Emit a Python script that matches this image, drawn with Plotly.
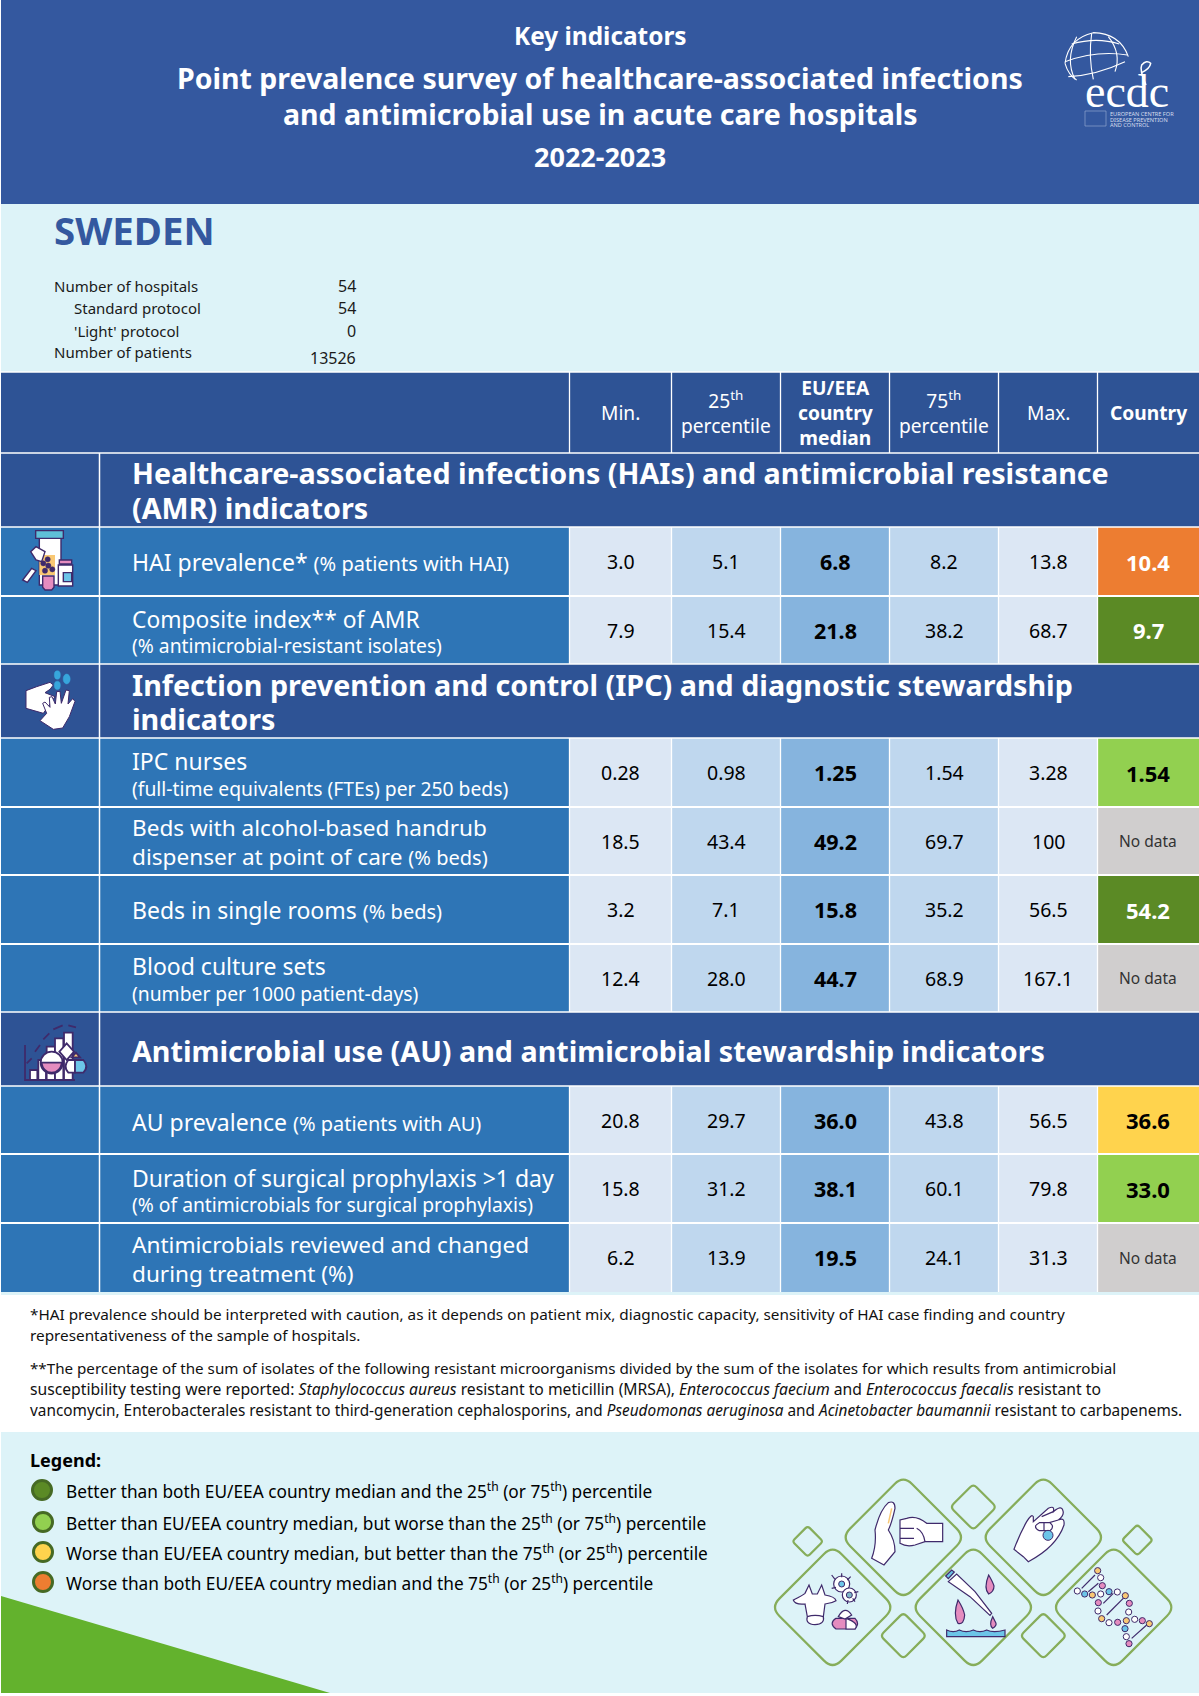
import re
import plotly.graph_objects as go

# ---------- DATA ----------
columns = ["Min.", "25<sup>th</sup><br>percentile", "<b>EU/EEA<br>country<br>median</b>",
           "75<sup>th</sup><br>percentile", "Max.", "<b>Country</b>"]
min_vals = ["3.0", "7.9", "0.28", "18.5", "3.2", "12.4", "20.8", "15.8", "6.2"]
p25_vals = ["5.1", "15.4", "0.98", "43.4", "7.1", "28.0", "29.7", "31.2", "13.9"]
median_vals = ["6.8", "21.8", "1.25", "49.2", "15.8", "44.7", "36.0", "38.1", "19.5"]
p75_vals = ["8.2", "38.2", "1.54", "69.7", "35.2", "68.9", "43.8", "60.1", "24.1"]
max_vals = ["13.8", "68.7", "3.28", "100", "56.5", "167.1", "56.5", "79.8", "31.3"]
country_vals = ["10.4", "9.7", "1.54", None, "54.2", None, "36.6", "33.0", None]
country_status = ["worst", "best", "better", None, "best", None, "worse", "better", None]
row_titles = [
    ["HAI prevalence* <t>(% patients with HAI)</t>"],
    ["Composite index** of AMR", "<s>(% antimicrobial-resistant isolates)</s>"],
    ["IPC nurses", "<s>(full-time equivalents (FTEs) per 250 beds)</s>"],
    ["Beds with alcohol-based handrub", "dispenser at point of care <t>(% beds)</t>"],
    ["Beds in single rooms <t>(% beds)</t>"],
    ["Blood culture sets", "<s>(number per 1000 patient-days)</s>"],
    ["AU prevalence <t>(% patients with AU)</t>"],
    ["Duration of surgical prophylaxis &gt;1 day", "<s>(% of antimicrobials for surgical prophylaxis)</s>"],
    ["Antimicrobials reviewed and changed", "during treatment (%)"],
]
section_titles = [
    ["Healthcare-associated infections (HAIs) and antimicrobial resistance", "(AMR) indicators"],
    ["Infection prevention and control (IPC) and diagnostic stewardship", "indicators"],
    ["Antimicrobial use (AU) and antimicrobial stewardship indicators"],
]
info_labels = ["Number of hospitals", "Standard protocol", "'Light' protocol", "Number of patients"]
info_values = ["54", "54", "0", "13526"]
legend_items = [
    "Better than both EU/EEA country median and the 25<sup>th</sup> (or 75<sup>th</sup>) percentile",
    "Better than EU/EEA country median, but worse than the 25<sup>th</sup> (or 75<sup>th</sup>) percentile",
    "Worse than EU/EEA country median, but better than the 75<sup>th</sup> (or 25<sup>th</sup>) percentile",
    "Worse than both EU/EEA country median and the 75<sup>th</sup> (or 25<sup>th</sup>) percentile",
]
notes = [
    "*HAI prevalence should be interpreted with caution, as it depends on patient mix, diagnostic capacity, sensitivity of HAI case finding and country",
    "representativeness of the sample of hospitals.",
    "**The percentage of the sum of isolates of the following resistant microorganisms divided by the sum of the isolates for which results from antimicrobial",
    "susceptibility testing were reported: <i>Staphylococcus aureus</i> resistant to meticillin (MRSA), <i>Enterococcus faecium</i> and <i>Enterococcus faecalis</i> resistant to",
    "vancomycin, Enterobacterales resistant to third-generation cephalosporins, and <i>Pseudomonas aeruginosa</i> and <i>Acinetobacter baumannii</i> resistant to carbapenems.",
]

# ---------- STYLE / LAYOUT ----------
F = "Noto Sans"
BANNER, DARK, MID, PALE = "#34589F", "#2E5395", "#2E75B6", "#DDF3F8"
WHITE, INK, PURPLE = "#FFFFFF", "#000000", "#3F2A6B"
PINK, BLUE, ORANGE = "#E58CBF", "#6CC5E8", "#F9C874"
CELL = {0: "#DCE7F4", 1: "#BFD7EE", 2: "#86B4DE", 3: "#BFD7EE", 4: "#DCE7F4"}
STATUS = {"best": "#5B8A25", "better": "#92D050", "worse": "#FFD34D", "worst": "#ED7D31", None: "#D0CECE"}
LEG_KEYS = ["best", "better", "worse", "worst"]
XC = [99.5, 569.5, 671.5, 780.5, 889.5, 998.5, 1097.5, 1199]
Y_HEAD = (372, 453)
SECTION_Y = [(453, 527), (664, 738), (1012, 1086)]
ROW_Y = [(527, 596), (596, 664), (738, 807), (807, 875), (875, 944), (944, 1012),
         (1086, 1154), (1154, 1223), (1223, 1292)]
SECTION_TEXT_Y = [[472.5, 507.5], [684, 718.5], [1050]]
ROW_TEXT_Y = [[562], [619, 645], [761, 788], [827, 856], [910], [966, 993], [1122], [1178, 1204], [1244, 1273]]
ROW_SIZE = [23, 22.8, 23, 22.6, 23, 23, 23, 23, 22.6]
NOTE_SIZE = [15.3, 15.3, 15.18, 15.7, 15.35]

shapes, ann = [], []


def rect(x0, y0, x1, y1, fill, line=None, lw=0):
    shapes.append(dict(type="rect", x0=x0, y0=y0, x1=x1, y1=y1, fillcolor=fill,
                       line=dict(color=line or fill, width=lw), layer="below"))


def seg(x0, y0, x1, y1, w=1.2, color=WHITE):
    shapes.append(dict(type="line", x0=x0, y0=y0, x1=x1, y1=y1, line=dict(color=color, width=w), layer="below"))


def path(d, ox=0, oy=0, s=1.0, fill="rgba(0,0,0,0)", line=PURPLE, lw=1.2):
    toks = re.findall(r"[MLQCZ]|-?\d+\.?\d*", d)
    out, i = [], 0
    for t in toks:
        if t.isalpha():
            out.append(t)
            i = 0
        else:
            v = float(t)
            out.append(f"{(ox + v * s if i % 2 == 0 else oy + v * s):.2f}")
            i += 1
    shapes.append(dict(type="path", path=" ".join(out), fillcolor=fill, layer="below",
                       line=dict(color=line, width=lw)))


def circ(cx, cy, r, fill, line=PURPLE, lw=1.2, ry=None):
    ry = ry or r
    shapes.append(dict(type="circle", x0=cx - r, x1=cx + r, y0=cy - ry, y1=cy + ry, fillcolor=fill,
                       line=dict(color=line, width=lw), layer="below"))


def txt(x, y, s, size, color=INK, anchor="left", family=F):
    ann.append(dict(x=x, y=y, text=s, showarrow=False, xanchor=anchor, yanchor="middle", align=anchor,
                    borderpad=0, borderwidth=0, font=dict(family=family, size=size, color=color)))


def small(s):
    return (s.replace("<s>", '<span style="font-size:19.3px">').replace("</s>", "</span>")
             .replace("<t>", '<span style="font-size:20px">').replace("</t>", "</span>"))


# ---------- panels ----------
rect(1, 0, 1199, 204, BANNER)
rect(1, 204, 1199, 372, PALE)
rect(1, Y_HEAD[0], 1199, Y_HEAD[1], DARK)
for y0, y1 in SECTION_Y:
    rect(1, y0, 1199, y1, DARK)
rect(1, 1292, 1199, 1295, PALE)
rect(1, 1432, 1199, 1693, PALE)
path("M1 1596 L330 1693 L1 1693 Z", fill="#63B22D", line="#63B22D", lw=0)

# ---------- banner texts ----------
txt(600, 35, "<b>Key indicators</b>", 24.4, WHITE, "center")
txt(600, 78, "<b>Point prevalence survey of healthcare-associated infections</b>", 28.5, WHITE, "center")
txt(600, 114, "<b>and antimicrobial use in acute care hospitals</b>", 28.5, WHITE, "center")
txt(600, 156, "<b>2022-2023</b>", 27, WHITE, "center")
txt(54, 230, "<b>SWEDEN</b>", 38.4, BANNER)

info_x = [54, 74, 74, 54]
info_y = [285.5, 307.5, 330.5, 351.5]
val_y = [286, 308, 331, 358]
for lab, val, x, y, vy in zip(info_labels, info_values, info_x, info_y, val_y):
    txt(x, y, lab, 15, "#1A1A1A")
    txt(356, vy, val, 16, "#1A1A1A", "right")

# ---------- header ----------
for j, head in enumerate(columns):
    cx = (XC[j + 1] + XC[j + 2]) / 2
    txt(cx, sum(Y_HEAD) / 2, head, 19.2, WHITE, "center")

# ---------- rows ----------
for (y0, y1), lines, ys, msize, vals in zip(ROW_Y, row_titles, ROW_TEXT_Y, ROW_SIZE,
                                     zip(min_vals, p25_vals, median_vals, p75_vals, max_vals, country_vals, country_status)):
    rect(1, y0, XC[1], y1, MID)
    for j in range(5):
        rect(XC[j + 1], y0, XC[j + 2], y1, CELL[j])
        if j == 2:
            txt((XC[j + 1] + XC[j + 2]) / 2, (y0 + y1) / 2, f"<b>{vals[j]}</b>", 21.5, INK, "center")
        else:
            txt((XC[j + 1] + XC[j + 2]) / 2, (y0 + y1) / 2, vals[j], 19.5, INK, "center")
    rect(XC[6], y0, XC[7], y1, STATUS[vals[6]])
    cx = (XC[6] + XC[7]) / 2
    if vals[5] is None:
        txt(cx, (y0 + y1) / 2, "No data", 15.5, "#333333", "center")
    else:
        txt(cx, (y0 + y1) / 2, f"<b>{vals[5]}</b>", 22, INK if vals[6] in ("better", "worse") else WHITE, "center")
    for line, y in zip(lines, ys):
        txt(132, y, small(line), msize, WHITE)

for lines, ys in zip(section_titles, SECTION_TEXT_Y):
    for line, y in zip(lines, ys):
        txt(132, y, f"<b>{line}</b>", 28.7, WHITE)

# ---------- grid ----------
for y in [372, 453, 527, 664, 738, 1012, 1086]:
    seg(1, y, 1199, y, 1.3)
for y in [596, 807, 875, 944, 1154, 1223]:
    seg(1, y, 1199, y, 2)
for x in XC[1:7]:
    seg(x, Y_HEAD[0], x, Y_HEAD[1], 1.3)
    for y0, y1 in ROW_Y:
        seg(x, y0, x, y1, 1.3)
seg(XC[0], 453, XC[0], 1292, 1.5)

# ---------- notes ----------
for s, y, size in zip(notes, [1314, 1335, 1368, 1389, 1410], NOTE_SIZE):
    txt(30, y, s, size, "#111111")

# ---------- legend ----------
txt(30, 1460, "<b>Legend:</b>", 18, INK)
for key, s, y, cx in zip(LEG_KEYS, legend_items, [1490, 1522, 1552, 1582], [42, 43, 43, 43]):
    circ(cx, y, 9.5, STATUS[key], "#466A24", 3)
    txt(66, y, s, 17.25, INK)


# ---------- decoration: rounded diamonds ----------
def diamond(cx, cy, r):
    k = 0.14 * r
    a = r - k
    d = (f"M{cx - k} {cy - a} Q{cx} {cy - r} {cx + k} {cy - a} L{cx + a} {cy - k} Q{cx + r} {cy} {cx + a} {cy + k} "
         f"L{cx + k} {cy + a} Q{cx} {cy + r} {cx - k} {cy + a} L{cx - a} {cy + k} Q{cx - r} {cy} {cx - a} {cy - k} Z")
    path(d, 760, 1460, 1 / 3, line="#86AD5A", lw=2.2)


for c in [(218, 442, 186), (430, 232, 186), (640, 442, 186), (850, 232, 186), (1061, 442, 186),
          (143, 244, 46), (1132, 240, 46), (640, 141, 69), (430, 527, 69), (850, 527, 69)]:
    diamond(*c)

LG = dict(ox=760, oy=1460, s=1 / 3)
# raised hand and fist
path("M335 295 Q350 255 345 210 Q360 150 385 128 Q405 120 405 145 Q395 190 385 210 Q405 240 405 275 L372 315 Z", fill=WHITE, **LG)
path("M395 145 L385 190", line=ORANGE, lw=1.5, **LG)
path("M548 190 L500 190 Q470 165 440 175 L420 180 L420 250 Q440 262 465 255 L495 245 L548 245 Z", fill=WHITE, **LG)
path("M420 205 L462 205 M420 235 L462 235 M470 205 Q490 215 495 245", **LG)
# hand with capsule
path("M762 268 Q780 220 800 185 Q815 160 820 170 L820 185 L865 145 Q885 135 880 155 Q905 135 908 150 "
     "Q915 165 895 180 Q915 170 912 195 Q890 260 805 305 L790 290 Z", fill=WHITE, **LG)
path("M845 170 L880 155 M860 190 L895 180", **LG)
path("M838 188 L870 188 Q885 200 870 212 L838 212 Q815 200 838 188 Z", fill=WHITE, **LG)
path("M852 188 L852 212", **LG)
circ(760 + 864 / 3, 1460 + 226 / 3, 5, BLUE, PURPLE, 1)
# cow, microbes, capsule
path("M100 420 Q130 405 135 400 L147 375 L157 402 L172 402 L185 375 L195 405 Q225 410 228 422 Q215 430 195 432 "
     "L190 470 Q195 492 165 494 Q135 492 142 470 L135 432 Q105 435 100 420 Z", fill=WHITE, **LG)
path("M142 470 Q165 462 190 470", **LG)
circ(760 + 245 / 3, 1460 + 372 / 3, 8, WHITE, PURPLE, 1.2)
circ(760 + 245 / 3, 1460 + 372 / 3, 3, BLUE, PURPLE, 1)
circ(760 + 268 / 3, 1460 + 405 / 3, 7, WHITE, PURPLE, 1.2)
circ(760 + 268 / 3, 1460 + 405 / 3, 3, "#7FB7C8", PURPLE, 1)
path("M215 345 L225 358 M245 340 L245 352 M272 350 L262 360 M295 395 L283 398 M285 425 L278 415 M262 432 L264 420 M215 385 L228 382", **LG)
path("M228 475 L285 475 Q300 490 285 507 L228 507 Q205 490 228 475 Z", fill=PINK, **LG)
path("M258 475 L258 507 L285 507 Q300 490 258 475 Z", fill=WHITE, **LG)
path("M235 470 Q255 435 275 465 L255 477 Z", fill=WHITE, **LG)
# pipette and drops
path("M565 365 L590 342 L645 395 L695 460 L690 466 L630 410 Z", fill=WHITE, **LG)
path("M557 348 L575 330 L583 336 L565 356 Z", fill=BLUE, **LG)
path("M594 420 Q578 465 594 490 Q612 495 614 465 Q610 445 594 420 Z", fill=PINK, **LG)
path("M686 345 Q670 385 686 402 Q702 395 702 378 Q698 365 686 345 Z", fill=PINK, **LG)
path("M698 470 Q686 495 698 505 Q710 497 708 490 Z", fill=PINK, **LG)
path("M560 510 Q580 520 598 510 Q618 520 640 510 Q660 520 680 510 Q700 520 735 510 L735 530 L560 530 Z", fill=BLUE, **LG)
# DNA helix
for (x0, y0, x1, y1) in [(965, 385, 1005, 345), (985, 395, 1015, 370), (1040, 465, 1095, 410), (1115, 535, 1160, 495), (1030, 430, 1060, 400)]:
    path(f"M{x0} {y0} L{x1} {y1}", **LG)
for zx, zy, col in [(1022, 353, WHITE), (1027, 377, PINK), (974, 402, BLUE), (997, 405, ORANGE), (1022, 402, WHITE),
                    (1047, 395, BLUE), (1072, 396, WHITE), (1096, 407, ORANGE), (1015, 428, PINK), (1108, 430, PINK),
                    (1014, 453, WHITE), (1106, 456, WHITE), (1025, 476, ORANGE), (1047, 488, WHITE), (1073, 487, PINK),
                    (1099, 482, ORANGE), (1124, 478, WHITE), (1147, 482, PINK), (1095, 506, BLUE), (1099, 530, WHITE),
                    (1013, 332, ORANGE), (952, 393, WHITE), (1168, 491, ORANGE), (1107, 551, PINK)]:
    circ(760 + zx / 3, 1460 + zy / 3, 3.1, col, PURPLE, 1)

# ---------- logo ----------
LOGO = dict(ox=1040, oy=20, s=1 / 3, line=WHITE, lw=1.1)
for d in ["M75 130 Q85 55 160 38 Q240 40 265 110", "M75 125 Q170 90 262 105", "M95 72 Q170 50 238 72",
          "M85 170 Q170 165 255 125", "M155 40 Q145 110 160 178", "M110 50 Q75 120 105 178",
          "M205 50 Q245 100 225 155", "M75 130 Q85 165 110 180"]:
    path(d, **LOGO)
path("M318 195 Q298 150 305 135 Q320 118 332 130 Q330 145 305 158", ox=1040, oy=20, s=1 / 3, line=WHITE, lw=1.5)
txt(1126.5, 91, "ecdc", 46, WHITE, "center", "Liberation Serif")
rect(1085, 111, 1106, 126, "rgba(0,0,0,0)", "#8FA5CF", 0.7)
for y, s in zip([114, 119.5, 124.5], ["EUROPEAN CENTRE FOR", "DISEASE PREVENTION", "AND CONTROL"]):
    txt(1110, y, s, 5.6, "#D5DDEE")

# ---------- table icons ----------
I1 = dict(ox=0, oy=500, s=1 / 3, lw=1.4)
path("M118 115 L183 115 L183 255 L118 255 Z", fill=WHITE, **I1)
path("M118 165 L165 165 L165 225 L118 225 Z", fill=ORANGE, line=ORANGE, ox=0, oy=500, s=1 / 3, lw=0)
path("M107 92 L190 92 L190 115 L107 115 Z", fill="#5FC0D8", **I1)
path("M175 195 L218 195 L218 258 L175 258 Z", fill=WHITE, **I1)
path("M178 180 L215 180 L215 192 L178 192 Z", fill=PINK, **I1)
path("M190 218 L215 218 L215 245 L190 245 Z", fill=BLUE, **I1)
path("M128 228 L162 228 L162 262 L155 270 L135 270 L128 262 Z", fill=PINK, **I1)
path("M92 155 L108 140 L135 155 L125 185 L108 180 Z", fill=WHITE, **I1)
path("M68 240 L95 205 L108 212 L82 247 Z", fill=WHITE, **I1)
for zx, zy in [(130, 190), (143, 178), (145, 197), (135, 212), (157, 208)]:
    circ(zx / 3, 500 + zy / 3, 2.6, PURPLE, PURPLE, 0.5)

I2 = dict(ox=0, oy=500, s=1 / 3, lw=1)
path("M78 572 L110 560 L150 547 L160 555 L150 568 L135 578 L165 590 L130 640 L78 625 Z", fill=WHITE, **I2)
path("M120 662 L140 640 L128 610 L135 606 L150 622 L148 592 L156 590 L166 612 L170 575 L180 574 L184 610 "
     "L198 570 L208 572 L204 612 L218 596 L225 604 L208 650 L188 684 L160 688 Z", fill=WHITE, **I2)
for zx, zy, r in [(172, 525, 3), (200, 537, 3.5), (172, 556, 3)]:
    circ(zx / 3, 500 + zy / 3, r, "#37A6DC", "#37A6DC", 0.5, ry=r * 1.4)

I3 = dict(ox=0, oy=1000, s=1 / 3, lw=1.8)
path("M75 135 L75 240 L225 240", **I3)
path("M80 190 L95 175 M105 155 L120 135 M130 118 L148 100 M160 88 L188 76 M205 76 L228 82", **I3)
for x0, x1, top in [(90, 112, 210), (115, 138, 180), (140, 165, 140), (165, 190, 115), (192, 218, 98)]:
    path(f"M{x0} 240 L{x0} {top} L{x1} {top} L{x1} 240 Z", fill=WHITE, **I3)
circ(155 / 3, 1000 + 188 / 3, 11, WHITE, PURPLE, 1.8)
path("M124 188 L186 188 Q180 218 155 218 Q130 218 124 188 Z", fill=PINK, **I3)
path("M200 130 L222 155 L200 180 L178 155 Z", fill=WHITE, **I3)
path("M215 172 L228 158 L240 172 Z", fill=ORANGE, **I3)
path("M205 180 L225 180 L225 218 L205 218 Q188 200 205 180 Z", fill=WHITE, **I3)
path("M225 180 L250 180 Q268 200 250 218 L225 218 Z", fill=BLUE, **I3)

fig = go.Figure()
fig.update_layout(
    width=1199, height=1696, autosize=False, margin=dict(l=0, r=0, t=0, b=0, pad=0),
    paper_bgcolor="white", plot_bgcolor="white", showlegend=False,
    xaxis=dict(range=[0, 1199], visible=False, fixedrange=True),
    yaxis=dict(range=[1696, 0], visible=False, fixedrange=True),
    shapes=shapes, annotations=ann,
)
fig.write_html("out.html", config=dict(displayModeBar=False),
               post_script="document.body.style.margin='0';document.body.style.overflow='hidden';")
